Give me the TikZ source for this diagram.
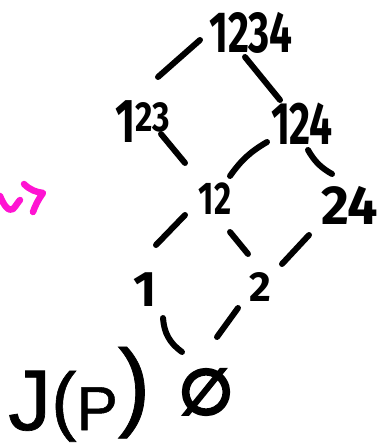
\documentclass[tikz,border=0pt]{standalone}
\usepackage{fontspec}
\setmainfont{Fira Sans}
\newfontfamily\capfont[FakeBold=0.8]{Liberation Sans}
\newfontfamily\symfont[FakeBold=6]{DejaVu Sans}
\usetikzlibrary{calc}
\definecolor{ink}{RGB}{0,0,0}
\definecolor{marker}{RGB}{255,20,210}
\tikzset{
  edge/.style={line width=6pt, line cap=round, draw=ink},
  lbl/.style={inner sep=0pt, text=ink, font=\bfseries},
  markstroke/.style={line width=6.5pt, line cap=round, line join=round, draw=marker},
}
\newcommand\handsize[1]{\fontsize{#1}{#1}\selectfont}
\newcommand\narrow[2]{\scalebox{#1}[1]{#2}}

\begin{document}
\begin{tikzpicture}[x=1pt,y=-1pt]
\useasboundingbox (0,0) rectangle (386,443);

% lattice elements
\node[lbl] (n1234) at (251,33)  {\handsize{58}\narrow{0.70}{1234}};
\node[lbl] (n123)  at (143,122)
  {\handsize{62}\narrow{0.70}{1}\raisebox{11pt}{\handsize{42}\narrow{0.8}{23}}};
\node[lbl] (n124)  at (302,124) {\handsize{60}\narrow{0.68}{124}};
\node[lbl] (n12)   at (215,199) {\handsize{46}\narrow{0.72}{12}};
\node[lbl] (n24)   at (350,205) {\handsize{55}\narrow{0.98}{24}};
\node[lbl] (n1)    at (145,290) {\handsize{50}1};
\node[lbl] (n2)    at (260,287) {\handsize{42}2};
\node[inner sep=0pt] (nempty) at (206,392) {\symfont\handsize{62}∅};
\node[inner sep=0pt, anchor=base west, font=\capfont] (jp) at (8,430)
  {\handsize{86}J\raisebox{4pt}{\handsize{76}(}\handsize{62}P\raisebox{12pt}{\handsize{98})}};

% covering relations
\draw[edge] ([shift={(-51,7)}]n1234.center) -- ([shift={(15,-45)}]n123.center);
\draw[edge] ([shift={(-6,24)}]n1234.center) -- ([shift={(-22,-24)}]n124.center);
\draw[edge] ([shift={(18,12)}]n123.center) -- ([shift={(-30,-36)}]n12.center);
\draw[edge] ([shift={(-35,18)}]n124.center) to[bend right=12] ([shift={(15,-23)}]n12.center);
\draw[edge] ([shift={(6,26)}]n124.center) to[bend right=15] ([shift={(-18,-31)}]n24.center);
\draw[edge] ([shift={(-30,16)}]n12.center) -- ([shift={(11,-45)}]n1.center);
\draw[edge] ([shift={(15,33)}]n12.center) -- ([shift={(-12,-33)}]n2.center);
\draw[edge] ([shift={(-41,30)}]n24.center) -- ([shift={(22,-23)}]n2.center);
\draw[edge] ([shift={(18,28)}]n1.center) to[bend right=25] ([shift={(-24,-40)}]nempty.center);
\draw[edge] ([shift={(-22,21)}]n2.center) -- ([shift={(11,-55)}]nempty.center);

% marker stroke at the left edge
\draw[markstroke] (0,196) .. controls (4,206) and (9,212) .. (13,209)
  .. controls (16,206) and (18,202) .. (20,200);
\draw[markstroke] (24,184) .. controls (30,190) and (36,192) .. (43,193)
  .. controls (38,200) and (35,206) .. (33,212);
\end{tikzpicture}
\end{document}
